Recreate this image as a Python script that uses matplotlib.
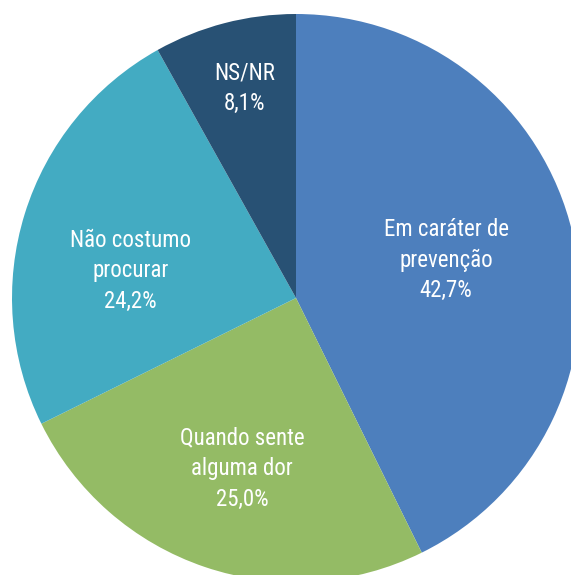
import numpy as np
import matplotlib.pyplot as plt
from matplotlib import font_manager

# Fatias, na ordem horária a partir do topo
rotulos = ["Em caráter de\nprevenção", "Quando sente\nalguma dor", "Não costumo\nprocurar", "NS/NR"]
valores = [42.7, 25.0, 24.2, 8.1]
cores = ["#4D7FBD", "#94BB65", "#43ABC2", "#285174"]

# posição do texto dentro de cada fatia (fração do raio, desvio de ângulo em graus)
dist_rotulo = [0.545, 0.63, 0.59, 0.76]
desvio_ang = [1.0, 1.2, 8.0, -0.7]

nomes = {f.name for f in font_manager.fontManager.ttflist}
fonte = [n for n in ["Roboto Condensed", "Roboto"] if n in nomes][:1] + ["DejaVu Sans"]

W, H = 571, 575
fig = plt.figure(figsize=(W / 100, H / 100), dpi=100)
ax = fig.add_axes([0, 0, 1, 1])

cx, cy, r = 296, H - 298, 284
fatias, _ = ax.pie(valores, colors=cores, startangle=90, counterclock=False,
                   center=(cx, cy), radius=r, frame=True,
                   wedgeprops=dict(linewidth=0))
ax.set_xlim(0, W)
ax.set_ylim(0, H)
ax.set_aspect("equal")
ax.axis("off")

for w, txt, v, d, da in zip(fatias, rotulos, valores, dist_rotulo, desvio_ang):
    ang = np.deg2rad((w.theta1 + w.theta2) / 2 + da)
    x = cx + d * r * np.cos(ang)
    y = cy + d * r * np.sin(ang)
    ax.text(x, y, f"{txt}\n{v:.1f}%".replace(".", ","), ha="center", va="center",
            color="white", fontsize=16.5, family=fonte, fontweight="normal",
            linespacing=1.42)

fig.savefig("out.png", dpi=100)
